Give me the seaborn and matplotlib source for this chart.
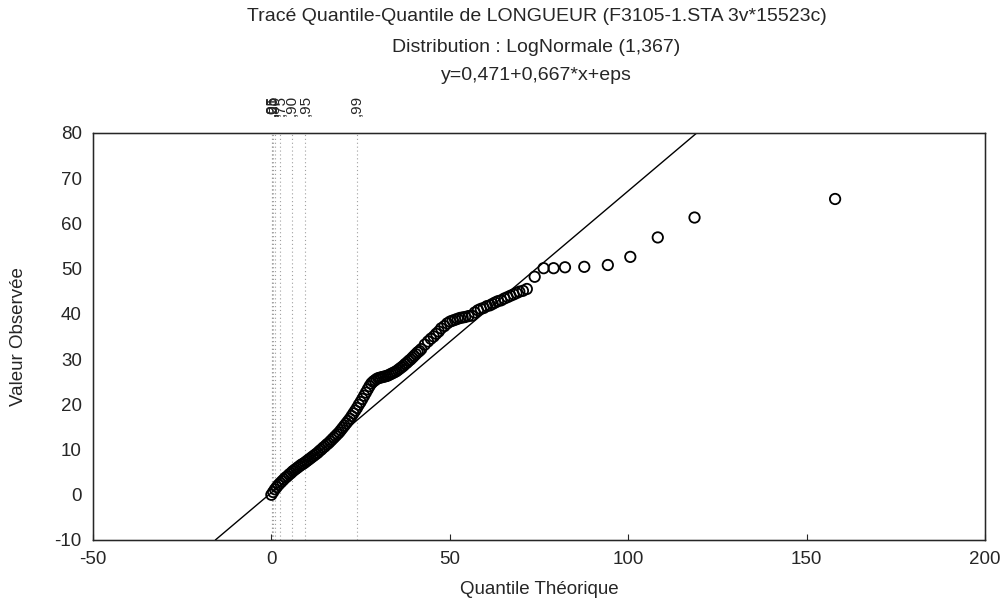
import numpy as np
import pandas as pd
import matplotlib
matplotlib.use("Agg")
import matplotlib.pyplot as plt
import seaborn as sns

quantile_theorique = [
    0.0, 0.5, 1.0, 1.5, 2.0, 2.5, 3.0, 3.5, 4.0, 4.5, 5.0, 5.5, 6.0, 6.5, 7.0, 7.5,
    8.0, 8.5, 9.0, 9.5, 10.0, 10.5, 11.0, 11.5, 12.0, 12.5, 13.0, 13.5, 14.0, 14.5,
    15.0, 15.5, 16.0, 16.5, 17.0, 17.5, 18.0, 18.5, 19.0, 19.5, 20.0, 20.5, 21.0,
    21.5, 22.0, 22.5, 23.0, 23.5, 24.0, 24.5, 25.0, 25.5, 26.0, 26.5, 27.0, 27.5,
    28.0, 28.5, 29.0, 29.5, 30.0, 30.5, 31.0, 31.5, 32.0, 32.5, 33.0, 33.5, 34.0,
    34.5, 35.0, 35.5, 36.0, 36.5, 37.0, 37.5, 38.0, 38.5, 39.0, 39.5, 40.0, 40.5,
    41.0, 41.5, 42.0,
    43.0, 43.9, 44.7, 45.5, 46.2, 46.9, 47.6, 48.5, 49.3, 50.1, 50.8, 51.5, 52.2,
    52.9, 53.6, 54.3, 55.2, 56.2, 57.0, 57.9, 58.7, 59.5, 60.4, 61.3, 62.0, 62.7,
    63.5, 64.4, 65.3, 66.2, 67.0, 67.9, 68.7, 69.5, 70.5, 71.6,
    73.8, 76.3, 79.1, 82.3, 87.7, 94.3, 100.6, 108.3, 118.6, 158.0,
]
valeur_observee = [
    0.0, 0.6, 1.2, 1.7, 2.2, 2.6, 3.0, 3.4, 3.8, 4.1, 4.5, 4.8, 5.2, 5.5, 5.8, 6.1,
    6.4, 6.7, 6.9, 7.2, 7.5, 7.8, 8.1, 8.4, 8.7, 9.0, 9.3, 9.7, 10.0, 10.4,
    10.7, 11.1, 11.4, 11.8, 12.2, 12.6, 13.0, 13.4, 13.8, 14.3, 14.8, 15.3, 15.8,
    16.3, 16.8, 17.4, 18.0, 18.6, 19.2, 19.9, 20.5, 21.2, 21.9, 22.6, 23.3, 24.0,
    24.6, 25.0, 25.3, 25.6, 25.8, 25.9, 26.0, 26.1, 26.2, 26.3, 26.5, 26.7, 26.9,
    27.1, 27.3, 27.6, 27.9, 28.2, 28.5, 28.9, 29.2, 29.6, 29.9, 30.3, 30.7, 31.1,
    31.5, 31.8, 32.2,
    33.2, 33.9, 34.5, 35.0, 35.6, 36.1, 36.8, 37.3, 37.9, 38.3, 38.5, 38.7, 38.9,
    39.1, 39.2, 39.3, 39.5, 39.6, 40.3, 40.8, 41.1, 41.3, 41.7, 41.9, 42.2, 42.5,
    42.8, 43.0, 43.4, 43.7, 44.0, 44.3, 44.6, 44.9, 45.1, 45.5,
    48.2, 50.1, 50.1, 50.3, 50.4, 50.8, 52.6, 56.9, 61.3, 65.4,
]

# Droite ajustée : y = 0,471 + 0,667*x
ordonnee_origine = 0.471
pente = 0.667

# Probabilités affichées en haut et leurs quantiles théoriques
etiquettes_prob = [",01", ",05", ",25", ",50", ",75", ",90", ",95", ",99"]
positions_prob = [0.042, 0.106, 0.398, 1.0, 2.51, 5.77, 9.48, 24.0]

ticks_x = [-50, 0, 50, 100, 150, 200]
ticks_y = [-10, 0, 10, 20, 30, 40, 50, 60, 70, 80]

dados = pd.DataFrame({"x": quantile_theorique, "y": valeur_observee})

sns.set_style("white")
plt.rcParams["font.family"] = ["Liberation Sans", "DejaVu Sans"]
plt.rcParams["axes.unicode_minus"] = False

fig = plt.figure(figsize=(10.03, 6.03), dpi=100)
ax = fig.add_axes([0.0927, 0.1045, 0.8893, 0.675])

# Lignes verticales pointillées aux quantiles de probabilité
for pos in positions_prob:
    ax.axvline(pos, color="#a0a0a0", linestyle=(0, (1, 2.5)), linewidth=0.8, zorder=1)

ax.axline((0, ordonnee_origine), slope=pente, color="black", linewidth=1.0, zorder=2)

sns.scatterplot(data=dados, x="x", y="y", ax=ax, marker="o", s=56,
                facecolor="none", edgecolor="black", linewidth=1.3, zorder=3)

ax.set_xlim(-50, 200)
ax.set_ylim(-10, 80)
ax.set_xticks(ticks_x)
ax.set_yticks(ticks_y)
ax.tick_params(direction="in", length=4, width=0.8, labelsize=13.5, pad=8)
for s in ax.spines.values():
    s.set_color("black")
    s.set_linewidth(1.0)

ax.set_xlabel("Quantile Théorique", fontsize=13.5, labelpad=9)
ax.set_ylabel("Valeur Observée", fontsize=13.5, labelpad=20)

# Axe du haut avec les probabilités
ax_haut = ax.twiny()
ax_haut.set_xlim(ax.get_xlim())
ax_haut.set_xticks(positions_prob)
ax_haut.set_xticklabels(etiquettes_prob, rotation=90, fontsize=11)
ax_haut.tick_params(length=0, pad=12)

fig.text(0.535, 0.972, "Tracé Quantile-Quantile de LONGUEUR (F3105-1.STA 3v*15523c)",
         ha="center", va="center", fontsize=14)
fig.text(0.535, 0.922, "Distribution : LogNormale (1,367)",
         ha="center", va="center", fontsize=14)
fig.text(0.535, 0.875, "y=0,471+0,667*x+eps",
         ha="center", va="center", fontsize=14)

plt.savefig("out.png", dpi=100)
